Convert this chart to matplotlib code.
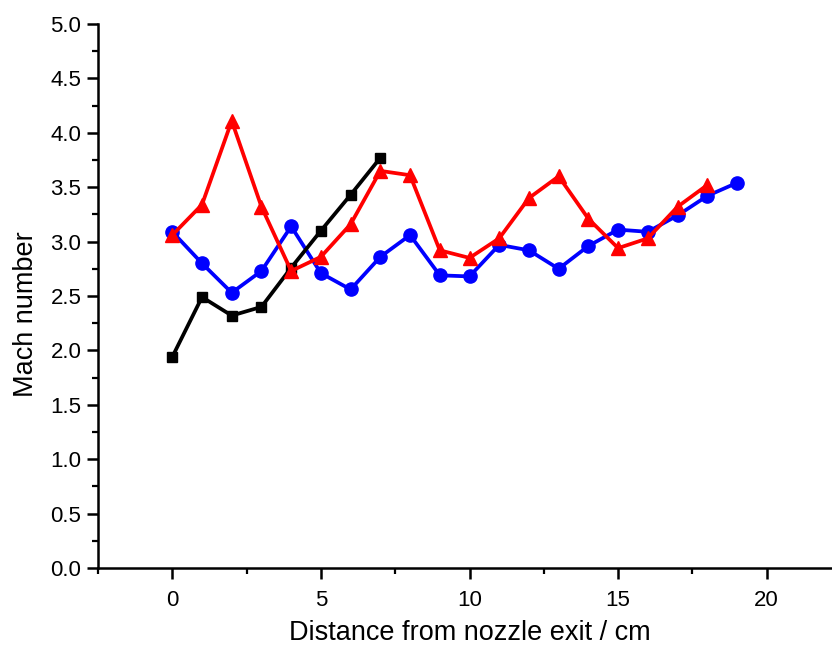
import matplotlib
matplotlib.use("Agg")
import matplotlib.pyplot as plt
from matplotlib.ticker import MultipleLocator

plt.rcParams.update({
    "font.family": ["Liberation Sans", "DejaVu Sans"],
    "font.size": 16,
})

# distance from nozzle exit (cm)
x_black = [0, 1, 2, 3, 4, 5, 6, 7]
mach_black = [1.94, 2.49, 2.32, 2.40, 2.76, 3.10, 3.43, 3.77]

x_red = list(range(0, 19))
mach_red = [3.06, 3.34, 4.11, 3.32, 2.73, 2.86, 3.16, 3.65, 3.61, 2.92,
            2.85, 3.03, 3.40, 3.60, 3.21, 2.94, 3.03, 3.32, 3.52]

x_blue = list(range(0, 20))
mach_blue = [3.09, 2.80, 2.53, 2.73, 3.14, 2.71, 2.56, 2.86, 3.06, 2.69,
             2.68, 2.97, 2.92, 2.75, 2.96, 3.11, 3.09, 3.24, 3.42, 3.54]

fig = plt.figure(figsize=(8.32, 6.48), dpi=100)
ax = fig.add_axes([98 / 832, 80 / 648, (841 - 98) / 832, (568 - 24) / 648])

ax.plot(x_blue, mach_blue, color="#0000ff", lw=2.7, marker="o", ms=9.5, zorder=3)
ax.plot(x_black, mach_black, color="black", lw=2.7, marker="s", ms=7.5, zorder=4)
ax.plot(x_red, mach_red, color="#ff0000", lw=2.7, marker="^", ms=10.5, zorder=5)

ax.set_xlim(-2.5, 22.5)
ax.set_ylim(0, 5.0)
ax.xaxis.set_major_locator(MultipleLocator(5))
ax.xaxis.set_minor_locator(MultipleLocator(2.5))
ax.yaxis.set_major_locator(MultipleLocator(0.5))
ax.yaxis.set_minor_locator(MultipleLocator(0.25))
ax.yaxis.set_major_formatter(plt.FormatStrFormatter("%.1f"))

for side in ("top", "right"):
    ax.spines[side].set_visible(False)
for side in ("left", "bottom"):
    ax.spines[side].set_linewidth(1.8)
ax.tick_params(which="major", direction="out", length=8, width=1.8, labelsize=16)
ax.tick_params(axis="y", which="major", pad=4)
ax.tick_params(axis="x", which="major", pad=8)
ax.tick_params(which="minor", direction="out", length=4, width=1.6)

ax.set_xlabel("Distance from nozzle exit / cm", fontsize=19.5, labelpad=6)
ax.set_ylabel("Mach number", fontsize=19.5)
# label sits a little below the middle of the axis in the original
ax.yaxis.set_label_coords(-0.080, 0.467)

fig.savefig("out.png", dpi=100)
